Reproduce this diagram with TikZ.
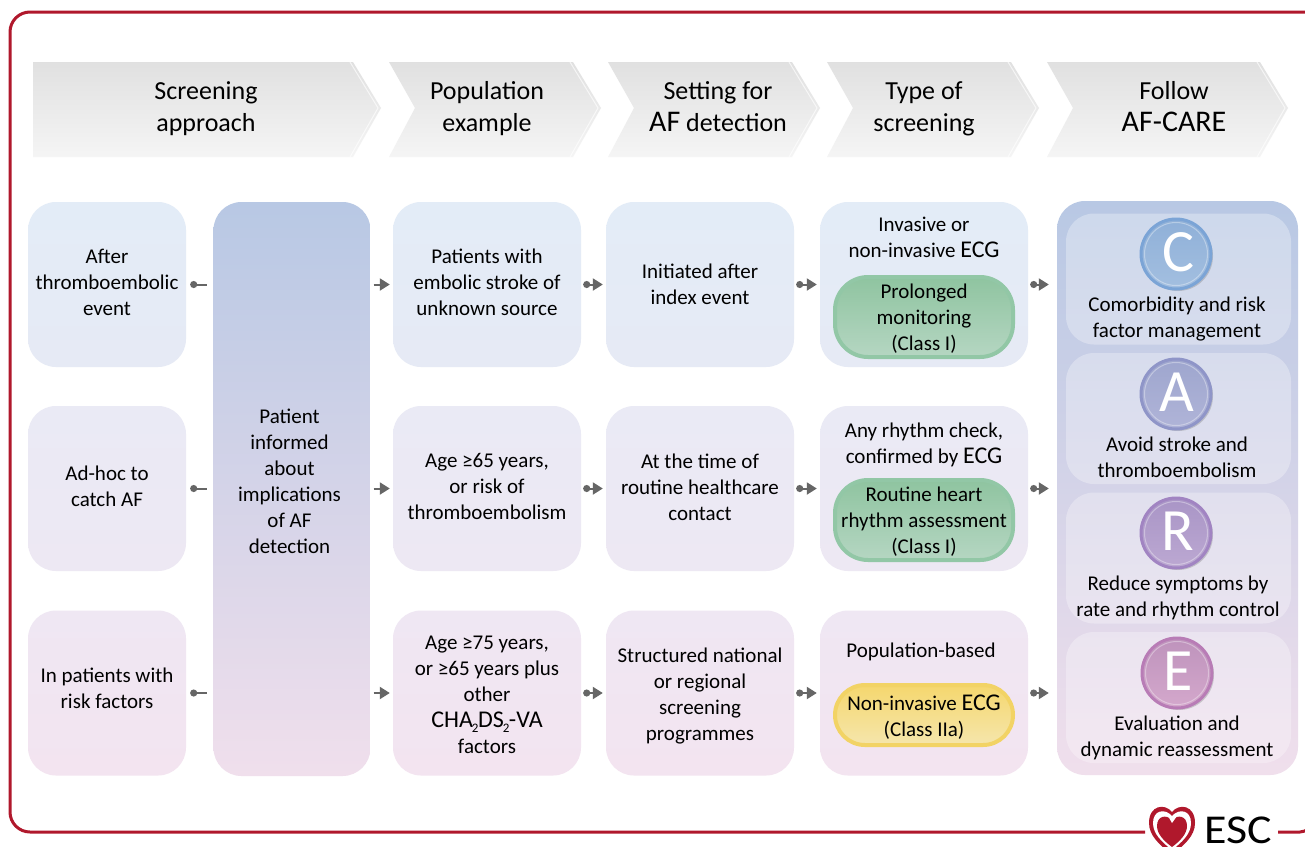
\documentclass[tikz,border=0pt]{standalone}
\usepackage{fontspec}
\setmainfont{Carlito}
\usetikzlibrary{arrows.meta,shadows}
\definecolor{r1t}{HTML}{E3ECF7}\definecolor{r1b}{HTML}{E6EAF5}
\definecolor{r2t}{HTML}{EAEAF5}\definecolor{r2b}{HTML}{EDE8F3}
\definecolor{r3t}{HTML}{EFE7F3}\definecolor{r3b}{HTML}{F3E4F0}
\definecolor{escred}{HTML}{B0182C}
\definecolor{conn}{HTML}{666666}
\definecolor{bluetop}{HTML}{B8C8E4}\definecolor{midtone}{HTML}{D9CEE6}\definecolor{pinkbot}{HTML}{F0DFEC}
\definecolor{pilltop}{HTML}{8FC4A0}\definecolor{pillbot}{HTML}{B5D6C2}\definecolor{pillring}{HTML}{92C7A6}
\definecolor{yeltop}{HTML}{F5D76E}\definecolor{yelbot}{HTML}{F5E6AC}\definecolor{yelring}{HTML}{F2D365}
\definecolor{ct}{HTML}{8FB0D8}\definecolor{cb}{HTML}{A3BFE0}\definecolor{cd}{HTML}{7BA4D6}
\definecolor{at}{HTML}{9EA6CE}\definecolor{ab}{HTML}{B0B4D8}\definecolor{ad}{HTML}{8F95C8}
\definecolor{rt}{HTML}{A995C6}\definecolor{rb}{HTML}{BCA8D2}\definecolor{rd}{HTML}{A184C2}
\definecolor{et}{HTML}{BE93BC}\definecolor{eb}{HTML}{D4A8CC}\definecolor{ed}{HTML}{B87CB6}
\newcommand{\subtwo}{\kern-1pt\raisebox{-5pt}{\fontsize{13}{13}\selectfont 2}\kern-0.5pt}
\newcommand{\capsbody}[1]{{\fontsize{24}{26}\selectfont #1}}
\newcommand{\capshead}[1]{{\fontsize{30}{32}\selectfont #1}}
\tikzset{
  every node/.style={font=\fontsize{21}{26}\selectfont,align=center,text=black,inner sep=0pt},
  boxbase/.style={rounded corners=28pt,draw=none,minimum width=#1},
  rowone/.style={boxbase=#1,minimum height=165pt,top color=r1t,bottom color=r1b},
  rowtwo/.style={boxbase=#1,minimum height=165pt,top color=r2t,bottom color=r2b},
  rowthree/.style={boxbase=#1,minimum height=165pt,top color=r3t,bottom color=r3b},
  tallpanel/.style={rounded corners=28pt,minimum width=#1,minimum height=574pt,top color=bluetop,middle color=midtone,bottom color=pinkbot},
  card/.style={rounded corners=28pt,fill=white,fill opacity=.30,minimum width=225pt,minimum height=131pt},
  greenpill/.style={rounded corners=33pt,minimum width=178pt,minimum height=80pt,top color=pilltop,bottom color=pillbot,draw=pillring,line width=4pt},
  yellowpill/.style={rounded corners=30pt,minimum width=178pt,minimum height=60pt,top color=yeltop,bottom color=yelbot,draw=yelring,line width=4pt},
  chevtext/.style={font=\fontsize{26}{32}\selectfont},
  link/.style={draw=conn,line width=2pt},
  dotarrow/.style={link,{Circle[length=7pt,width=7pt]}-{Triangle[length=10pt,width=12pt]},shorten <=2pt,shorten >=3pt},
  plainarrow/.style={link,-{Triangle[length=10pt,width=12pt]},shorten <=3pt,shorten >=3pt},
  dotline/.style={link,{Circle[length=7pt,width=7pt]}-,shorten <=4pt,shorten >=6pt},
  letter/.style={circle,minimum size=70pt,line width=3pt,drop shadow={opacity=.35,shadow xshift=2pt,shadow yshift=-2pt}},
  lettertext/.style={text=white,font=\fontsize{60}{60}\selectfont},
  innerring/.style={white,opacity=.35,line width=1pt},
}
\newcommand{\chevron}[3]{% x-left, x-right, notch
  \shade[top color=black!12,bottom color=black!4] (#1,62)--(#2-28,62)--(#2,108)--(#2-28,157)--(#1,157)--(#1+#3,108)--cycle;
  \draw[white,opacity=.65,line width=1pt] (#2-31,62)--(#2-3,108)--(#2-31,157);
}
\begin{document}
\begin{tikzpicture}[x=1pt,y=-1pt]
\useasboundingbox (0,0) rectangle (1305,846);
\fill[white] (0,0) rectangle (1305,846);
% frame
\draw[escred,line width=3pt,rounded corners=20pt] (1145,832)--(10,832)--(10,12)--(1330,12);
\draw[escred,line width=3pt,rounded corners=12pt] (1278,832)--(1312,832)--(1312,800);
% chevrons
\chevron{33}{381}{0}
\chevron{389}{601}{26}
\chevron{608}{820}{26}
\chevron{827}{1039}{26}
\chevron{1047}{1288}{26}
\node[chevtext] (h1) at (206,109) {Screening\\approach};
\node[chevtext] (h2) at (487,109) {Population\\example};
\node[chevtext] (h3) at (718,107) {Setting for\\\capshead{AF} detection};
\node[chevtext] (h4) at (924,109) {Type of\\screening};
\node[chevtext] (h5) at (1174,107) {Follow\\\capshead{AF-CARE}};
% column a
\node[rowone=158pt] (a1) at (107,284.5) {};
\node[rowtwo=158pt] (a2) at (107,488.5) {};
\node[rowthree=158pt] (a3) at (107,693) {};
\node (a1t) at (107,282.5) {After\\thromboembolic\\event};
\node (a2t) at (107,486.5) {Ad-hoc to\\catch AF};
\node (a3t) at (107,688.5) {In patients with\\risk factors};
% middle
\node[tallpanel=157pt] (m) at (292,489) {};
\node (mt) at (289.5,481.5) {Patient\\informed\\about\\implications\\of AF\\detection};
% column b
\node[rowone=188pt] (b1) at (487,284.5) {};
\node[rowtwo=188pt] (b2) at (487,488.5) {};
\node[rowthree=188pt] (b3) at (487,693) {};
\node (b1t) at (487,282.5) {Patients with\\embolic stroke of\\unknown source};
\node (b2t) at (487,486.5) {Age ≥65 years,\\or risk of\\thromboembolism};
\node (b3t) at (487,694.5) {Age ≥75 years,\\or ≥65 years plus\\other\\\capsbody{CHA\subtwo DS\subtwo-VA}\\factors};
% column c
\node[rowone=188pt] (c1) at (700,284.5) {};
\node[rowtwo=188pt] (c2) at (700,488.5) {};
\node[rowthree=188pt] (c3) at (700,693) {};
\node (c1t) at (700,284.5) {Initiated after\\index event};
\node (c2t) at (700,487) {At the time of\\routine healthcare\\contact};
\node (c3t) at (700,696.5) {Structured national\\or regional\\screening\\programmes};
% column d
\node[rowone=208pt] (d1) at (924,284.5) {};
\node[rowtwo=208pt] (d2) at (924,488.5) {};
\node[rowthree=208pt] (d3) at (924,693) {};
\node (d1t) at (924,237.5) {Invasive or\\non-invasive \capsbody{ECG}};
\node (d2t) at (924,445) {Any rhythm check,\\confirmed by \capsbody{ECG}};
\node (d3t) at (921,652) {Population-based};
\node[greenpill] (p1) at (924,317) {};
\node[greenpill] (p2) at (924,520) {};
\node[yellowpill] (p3) at (924,715) {};
\node (p1t) at (924,318.5) {Prolonged\\monitoring\\(Class I)};
\node (p2t) at (924,521.5) {Routine heart\\rhythm assessment\\(Class I)};
\node (p3t) at (924,717) {Non-invasive \capsbody{ECG}\\(Class IIa)};
% right panel
\node[tallpanel=241pt] (r) at (1177.5,488) {};
\node[card] (cc) at (1178.5,279) {};
\node[card] (ca) at (1178.5,418.5) {};
\node[card] (cr) at (1178.5,558) {};
\node[card] (ce) at (1178.5,697.5) {};
\node[letter,draw=cd,top color=ct,bottom color=cb] (lc) at (1176,254) {};
\node[letter,draw=ad,top color=at,bottom color=ab] (la) at (1176,394) {};
\node[letter,draw=rd,top color=rt,bottom color=rb] (lr) at (1176,533) {};
\node[letter,draw=ed,top color=et,bottom color=eb] (le) at (1177,673) {};
\draw[innerring] (lc) circle (31.5);
\draw[innerring] (la) circle (31.5);
\draw[innerring] (lr) circle (31.5);
\draw[innerring] (le) circle (31.5);
\node[lettertext] (lct) at (1178,252) {C};
\node[lettertext] (lat) at (1177,392) {A};
\node[lettertext] (lrt) at (1178,531) {R};
\node[lettertext] (let) at (1178,671) {E};
\node (tc) at (1177,319) {Comorbidity and risk\\factor management};
\node (ta) at (1177,457) {Avoid stroke and\\thromboembolism};
\node (tr) at (1178,598) {Reduce symptoms by\\rate and rhythm control};
\node (te) at (1177,737.5) {Evaluation and\\dynamic reassessment};
% connectors
\draw[dotline] (a1.east) -- (a1.east -| m.west);
\draw[dotline] (a2.east) -- (a2.east -| m.west);
\draw[dotline] (a3.east) -- (a3.east -| m.west);
\draw[plainarrow] (m.east |- b1.west) -- (b1.west);
\draw[plainarrow] (m.east |- b2.west) -- (b2.west);
\draw[plainarrow] (m.east |- b3.west) -- (b3.west);
\draw[dotarrow] (b1.east) -- (c1.west);
\draw[dotarrow] (b2.east) -- (c2.west);
\draw[dotarrow] (b3.east) -- (c3.west);
\draw[dotarrow] (c1.east) -- (d1.west);
\draw[dotarrow] (c2.east) -- (d2.west);
\draw[dotarrow] (c3.east) -- (d3.west);
\draw[dotarrow,shorten >=8pt] (d1.east) -- (d1.east -| r.west);
\draw[dotarrow,shorten >=8pt] (d2.east) -- (d2.east -| r.west);
\draw[dotarrow,shorten >=8pt] (d3.east) -- (d3.east -| r.west);
% ESC logo
\begin{scope}
\clip (1140,800) rectangle (1305,846);
\fill[escred] (1172,855) .. controls (1160,845) and (1149,836) .. (1149,823) .. controls (1149,805) and (1165,803) .. (1172,812) .. controls (1179,803) and (1195,805) .. (1195,823) .. controls (1195,836) and (1184,845) .. (1172,855) -- cycle;
\fill[white] (1172,850) .. controls (1162,842) and (1153,834) .. (1153,823) .. controls (1153,810) and (1165,808) .. (1172,816) .. controls (1179,808) and (1191,810) .. (1191,823) .. controls (1191,834) and (1182,842) .. (1172,850) -- cycle;
\fill[escred] (1172,847) .. controls (1164,841) and (1157,834) .. (1157,826) .. controls (1157,816) and (1166,814) .. (1172,820) .. controls (1178,814) and (1187,816) .. (1187,826) .. controls (1187,834) and (1180,841) .. (1172,847) -- cycle;
\fill[white] (1168,816) -- (1177,816) -- (1172,823) -- cycle;
\end{scope}
\node[font=\fontsize{41}{41}\selectfont,anchor=base] (esc) at (1238,843) {\scalebox{1.12}[1]{ESC}};
\end{tikzpicture}
\end{document}
